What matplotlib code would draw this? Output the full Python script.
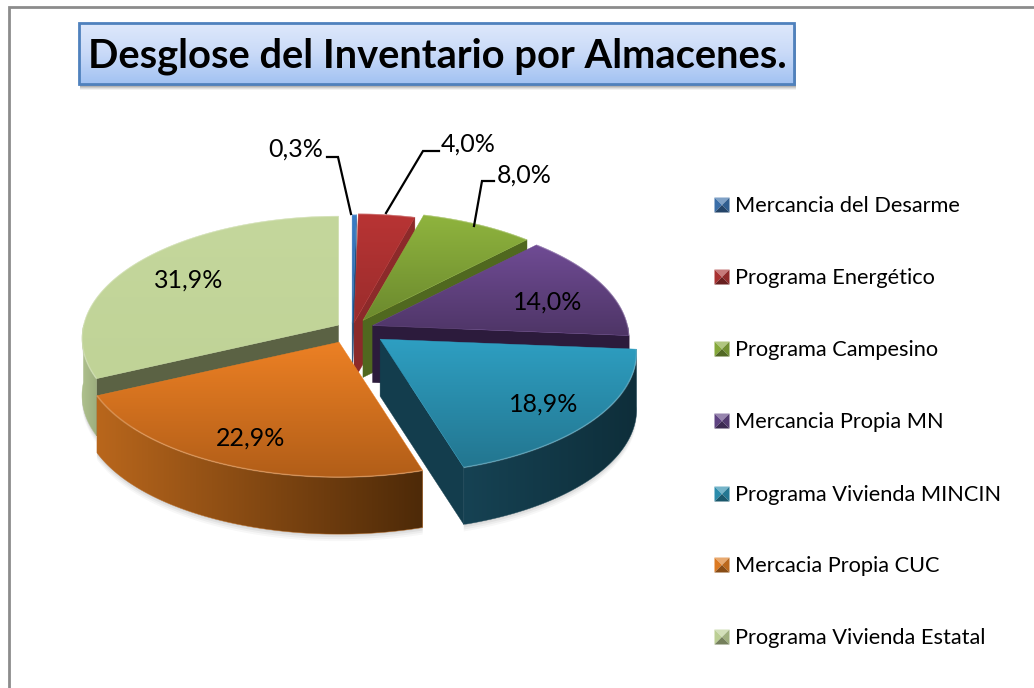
import numpy as np
import matplotlib
matplotlib.use("Agg")
import matplotlib.pyplot as plt
from matplotlib.patches import Polygon, Rectangle
from matplotlib.colors import to_rgb

TITLE = "Desglose del Inventario por Almacenes."
categories = ["Mercancia del Desarme", "Programa Energético", "Programa Campesino",
              "Mercancia Propia MN", "Programa Vivienda MINCIN", "Mercacia Propia CUC",
              "Programa Vivienda Estatal"]
values = [0.3, 4.0, 8.0, 14.0, 18.9, 22.9, 31.9]
value_labels = ["0,3%", "4,0%", "8,0%", "14,0%", "18,9%", "22,9%", "31,9%"]

# style / layout
explode = [12, 14, 22, 22, 36, 32, 16]
top_colors = [("#3A7CC4", "#2F68A8"), ("#B83434", "#9A2C2C"), ("#8FB43E", "#6C8A2E"),
              ("#6F4B94", "#4E3566"), ("#2E9FC2", "#237690"), ("#EC8024", "#B25E18"),
              ("#C4D79C", "#C0D397")]
cut_colors = ["#24527F", "#8C2A2A", "#50681F", "#2C1B3C", "#133D4D", "#7A430F", "#5B6244"]
wall_colors = [("#24527F", "#24527F"), ("#8C2A2A", "#8C2A2A"), ("#50681F", "#50681F"),
               ("#2C1B3C", "#2C1B3C"), ("#164253", "#0E2E3A"), ("#B8661C", "#4E2A08"),
               ("#AEC08D", "#9DAE7E")]
legend_colors = ["#3A6EA8", "#A83232", "#85A83A", "#5F4382", "#2A8CAC", "#DC7A22", "#BCCF95"]
label_pos = [(296, 149), (468, 144), (524, 175), (548, 302), (544, 404), (251, 438), (189, 280)]
leaders = [[(327, 157), (338, 157), (351, 214)],
           [(439, 151), (423, 151), (386, 213)],
           [(494, 181), (482, 181), (474, 226)]]
legend_y = [205, 277, 349, 421, 494, 565, 637]
CX, CY, DEPTH = 352, 329, 57
K = 0.45

plt.rcParams["font.family"] = ["Lato", "DejaVu Sans"]
fig = plt.figure(figsize=(10.34, 6.88), dpi=100, facecolor="white")
ax = fig.add_axes([0, 0, 1, 1])
ax.set_axis_off()


def pt(apex, theta):
    """Screen position of the rim of a slice at a clockwise angle (perspective ellipse)."""
    c, s = np.cos(theta), np.sin(theta)
    rx = 255 - 28 * c
    ry = 122 - 13 * c
    return np.column_stack([apex[0] + rx * s, apex[1] - ry * c])


def grad_fill(poly, stops, vertical=True, z=1):
    poly = np.asarray(poly)
    x0, y0 = poly.min(axis=0)
    x1, y1 = poly.max(axis=0)
    t = np.linspace(0, 1, 64)
    rgb = np.array([to_rgb(c) for c in stops])
    pos = np.linspace(0, 1, len(stops))
    ramp = np.stack([np.interp(t, pos, rgb[:, i]) for i in range(3)], axis=-1)
    img = ramp[:, None, :] if vertical else ramp[None, :, :]
    im = ax.imshow(img, extent=(x0, x1, y1, y0), origin="upper", aspect="auto",
                   interpolation="bilinear", zorder=z)
    clip = Polygon(poly, closed=True, transform=ax.transData, fill=False, ec="none")
    ax.add_patch(clip)
    im.set_clip_path(clip)
    ax.add_patch(Polygon(poly, closed=True, fc="none", ec=stops[0], lw=0.3, zorder=z))


edges = np.radians(np.concatenate([[0], np.cumsum(values)]) * 3.6)
draw_order = [6, 0, 1, 2, 3, 5, 4]
z = 5
for i in draw_order:
    a, b = edges[i], edges[i + 1]
    m = (a + b) / 2
    apex = (CX + explode[i] * np.sin(m), CY - K * explode[i] * np.cos(m))
    th = np.linspace(a, b, 120)
    rim = pt(apex, th)
    down = np.array([0, DEPTH])
    ap = np.array([apex])

    # soft shadow under the front wall
    lo, hi = max(a, np.pi / 2), min(b, 3 * np.pi / 2)
    if hi > lo:
        wt = np.linspace(lo, hi, 100)
        wall_top = pt(apex, wt)
        wall = np.vstack([wall_top, (wall_top + down)[::-1]])
        for off, al in zip((7, 5, 3, 1), (0.03, 0.04, 0.05, 0.07)):
            ax.add_patch(Polygon(wall + [0, off], closed=True, fc="black", ec="none",
                                 alpha=al, zorder=z))
        z += 1

    # cut faces
    if np.sin(a) < 0:
        e = pt(apex, np.array([a]))
        ax.add_patch(Polygon(np.vstack([ap, e, e + down, ap + down]), closed=True,
                             fc=cut_colors[i], ec=cut_colors[i], lw=0.3, zorder=z))
        z += 1
    if np.sin(b) > 0:
        e = pt(apex, np.array([b]))
        ax.add_patch(Polygon(np.vstack([ap, e, e + down, ap + down]), closed=True,
                             fc=cut_colors[i], ec=cut_colors[i], lw=0.3, zorder=z))
        z += 1

    # outer wall
    if hi > lo:
        grad_fill(wall, wall_colors[i], vertical=False, z=z)
        z += 1

    # top face
    top = np.vstack([ap, rim])
    grad_fill(top, top_colors[i], vertical=True, z=z)
    z += 1
    ax.plot(rim[:, 0], rim[:, 1], color="white", alpha=0.2, lw=1.2, zorder=z,
            solid_capstyle="butt")
    z += 1

# value labels and leader lines
for label, (lx, ly) in zip(value_labels, label_pos):
    ax.text(lx, ly, label, fontsize=18, color="black", ha="center", va="center", zorder=200)
for line in leaders:
    xy = np.array(line)
    ax.plot(xy[:, 0], xy[:, 1], color="black", lw=1.6, zorder=199, solid_joinstyle="miter")

# legend
for name, col, y in zip(categories, legend_colors, legend_y):
    x0, x1, y0, y1 = 714.5, 729.5, y - 7.5, y + 7.5
    cx, cy = (x0 + x1) / 2, (y0 + y1) / 2
    base = np.array(to_rgb(col))
    light = np.clip(base + (1 - base) * 0.35, 0, 1)
    dark = base * 0.62
    ax.add_patch(Polygon([(x0, y0), (x1, y0), (cx, cy)], fc=light, ec="none", zorder=200))
    ax.add_patch(Polygon([(x0, y0), (x0, y1), (cx, cy)], fc=base, ec="none", zorder=200))
    ax.add_patch(Polygon([(x1, y0), (x1, y1), (cx, cy)], fc=base * 0.85, ec="none", zorder=200))
    ax.add_patch(Polygon([(x0, y1), (x1, y1), (cx, cy)], fc=dark, ec="none", zorder=200))
    ax.text(735, y + 1, name, fontsize=15.7, color="black", ha="left", va="center", zorder=200)

# frame
ax.plot([1034, 9, 9], [7, 7, 688], color="#8C8C8C", lw=2, zorder=0.5,
        solid_joinstyle="miter")

# title box
bx0, bx1, by0, by1 = 79, 794, 23, 84
box = [(bx0, by0), (bx1, by0), (bx1, by1), (bx0, by1)]
for off, al in zip((6, 5, 4, 3, 2), (0.05, 0.07, 0.09, 0.11, 0.13)):
    ax.add_patch(Rectangle((bx0 + 1, by0 + off), bx1 - bx0 + 1, by1 - by0, fc="black", ec="none",
                           alpha=al, zorder=205))
grad_fill(box, ("#DEE8FB", "#C9DAF8", "#A2C2F2"), vertical=True, z=206)
ax.add_patch(Rectangle((bx0, by0), bx1 - bx0, by1 - by0, fc="none", ec="#4F81BD", lw=2, zorder=207))
ax.text(88, 56, TITLE, fontsize=28.7, fontweight="bold", color="black", ha="left", va="center",
        zorder=208)

ax.set_xlim(0, 1034)
ax.set_ylim(688, 0)
fig.savefig("out.png", dpi=100, facecolor="white")
